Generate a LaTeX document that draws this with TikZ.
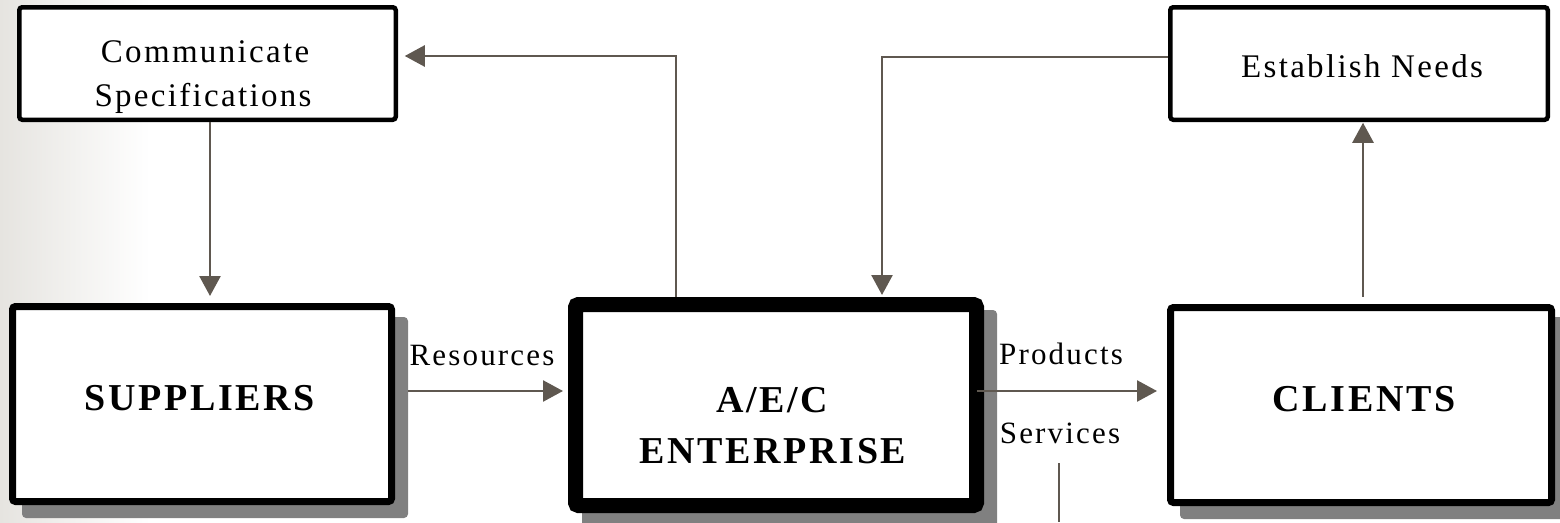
\documentclass[tikz,border=0pt]{standalone}
\usepackage{fontspec}
\setmainfont{Liberation Serif}[LetterSpace=7]
\usetikzlibrary{arrows.meta,calc}
\definecolor{arrc}{HTML}{5F5850}
\definecolor{shc}{HTML}{808080}
\definecolor{bgc}{HTML}{E6E4E0}
\begin{document}
\begin{tikzpicture}[x=1pt,y=-1pt,
  box/.style={draw=black, fill=white, rounded corners=3pt, inner sep=0pt, outer sep=0pt},
  thinbox/.style={box, line width=4.5pt, minimum width=376.5pt, minimum height=112.5pt},
  midbox/.style={box, line width=7pt, minimum width=379pt, minimum height=195pt},
  bigbox/.style={box, line width=15pt, minimum width=401pt, minimum height=201pt},
  shadowfill/.style={fill=shc, rounded corners=4pt},
  smalltxt/.style={anchor=base, inner sep=0pt, font=\fontsize{33}{44}\selectfont, text=black},
  labeltxt/.style={anchor=base, inner sep=0pt, font=\fontsize{31}{36}\selectfont, text=black},
  boldtxt/.style={anchor=base, inner sep=0pt, font=\fontsize{38}{46}\selectfont\bfseries, text=black},
  conn/.style={draw=arrc, line width=2.5pt},
  arr/.style={conn, -{Triangle[length=20pt,width=21pt]}}
]
\useasboundingbox (0,0) rectangle (1560,522);
\shade[left color=bgc, right color=white] (0,0) rectangle (150,522);

% shadows
\fill[shadowfill] (22,317) rectangle (408,518);
\fill[shadowfill] (582,310) rectangle (997,530);
\fill[shadowfill] (1180,317) rectangle (1575,519);

% boxes
\node[thinbox] (comm) at (207.5,63.5) {};
\node[thinbox, minimum width=377.5pt] (est) at (1359,63.5) {};
\node[midbox] (sup) at (202,404) {};
\node[bigbox] (aec) at (776,405) {};
\node[midbox, minimum width=381pt] (cli) at (1361,405) {};

% texts
\node[smalltxt] (commt1) at (205,62) {Communicate};
\node[smalltxt] (commt2) at (203,106) {Specifications};
\node[smalltxt] (estt) at (1362,77) {Establish Needs};
\node[boldtxt] (supt) at (200,410) {SUPPLIERS};
\node[boldtxt] (aect1) at (772,412) {A/E/C};
\node[boldtxt] (aect2) at (773,463) {ENTERPRISE};
\node[boldtxt] (clit) at (1364,411) {CLIENTS};
\node[labeltxt] (res) at (482,365) {Resources};
\node[labeltxt] (prod) at (1061,364) {Products};
\node[labeltxt] (serv) at (1060,443) {Services};

% connectors
\coordinate (k1) at (676,56);
\coordinate (k2) at (882,57);
\coordinate (xa) at (210,0);
\coordinate (xc) at (1363,0);
\coordinate (yh) at (0,391);
\coordinate (s1) at (1059,463);
\coordinate (s2) at (1059,522);

\draw[arr, shorten <=2pt, shorten >=10.5pt] (comm.south -| xa) -- (sup.north -| xa);
\draw[arr, shorten <=16.5pt, shorten >=12.5pt] (sup.east |- yh) -- (aec.west |- yh);
\draw[arr, shorten >=13.5pt] (aec.east |- yh) -- (cli.west |- yh);
\draw[arr, shorten <=7.5pt, shorten >=9pt] (aec.north -| k1) -- (k1) -- (k1 -| comm.east);
\draw[arr, shorten <=2pt, shorten >=9.5pt] (k2 -| est.west) -- (k2) -- (k2 |- aec.north);
\draw[arr, shorten <=11pt, shorten >=3pt] (cli.north -| xc) -- (est.south -| xc);
\draw[conn] (s1) -- (s2);
\end{tikzpicture}
\end{document}
